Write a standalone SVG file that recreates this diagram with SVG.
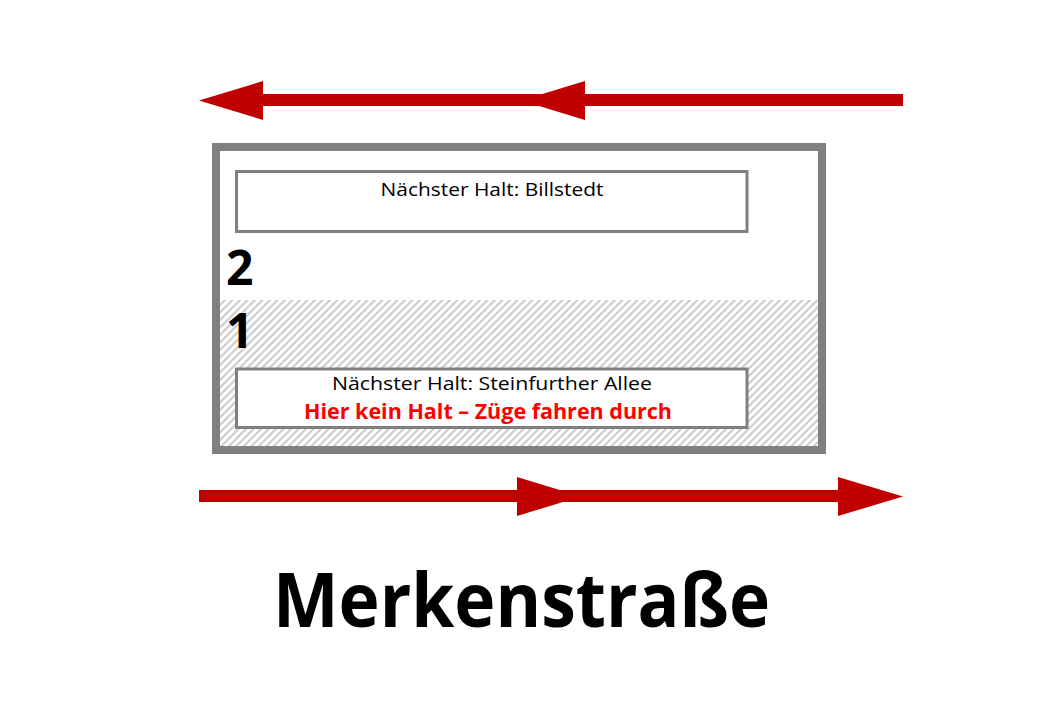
<svg xmlns="http://www.w3.org/2000/svg" width="1040" height="720" viewBox="0 0 1040 720">
<style>
.line{stroke:#c00000;stroke-width:12;fill:none}
.head{fill:#c00000}
.frame{fill:none;stroke:#808080;stroke-width:8}
.sign{fill:#ffffff;stroke:#808080;stroke-width:3}
.t{font-family:"Open Sans","Liberation Sans",sans-serif;text-anchor:middle}
.reg{font-size:19px;fill:#000}
.red{font-size:21px;font-weight:bold;fill:#ff0000}
.num{font-size:48px;font-weight:bold;fill:#000;text-anchor:start}
.title{font-size:76px;font-weight:bold;fill:#000}
</style>
<defs>
<pattern id="hatch" patternUnits="userSpaceOnUse" width="7.5" height="7.5">
<path d="M-1,1 L1,-1 M0,7.5 L7.5,0 M6.5,8.5 L8.5,6.5" stroke="#c8c8c8" stroke-width="2"/>
</pattern>
</defs>
<rect width="1040" height="720" fill="#ffffff"/>
<g id="platform">
<rect x="220" y="300" width="598" height="146" fill="url(#hatch)"/>
<rect class="frame" x="216" y="147" width="606" height="303"/>
</g>
<g id="sign-track2">
<rect class="sign" x="236.5" y="171.5" width="510.5" height="60"/>
<text class="t reg" x="492" y="196" textLength="223" lengthAdjust="spacingAndGlyphs">Nächster Halt: Billstedt</text>
</g>
<g id="track2-label">
<text class="t num" x="226" y="285">2</text>
</g>
<g id="track1-label">
<text class="t num" x="226" y="348">1</text>
</g>
<g id="sign-track1">
<rect class="sign" x="236.5" y="369" width="510.5" height="58.5"/>
<text class="t reg" x="492" y="390" textLength="320" lengthAdjust="spacingAndGlyphs">Nächster Halt: Steinfurther Allee</text>
<text class="t red" x="488" y="418.5" textLength="368" lengthAdjust="spacingAndGlyphs">Hier kein Halt – Züge fahren durch</text>
</g>
<g id="connectors">
<line class="line" x1="250" y1="100" x2="903" y2="100"/>
<polygon class="head" points="199,100.5 263,81 263,120"/>
<polygon class="head" points="521,100.5 585,81 585,120"/>
<line class="line" x1="199" y1="496" x2="850" y2="496"/>
<polygon class="head" points="581,496.5 517,477 517,516"/>
<polygon class="head" points="903,496.5 838,477 838,516"/>
</g>
<g id="station-name">
<text class="t title" x="521.5" y="627" textLength="497" lengthAdjust="spacingAndGlyphs">Merkenstraße</text>
</g>
</svg>
